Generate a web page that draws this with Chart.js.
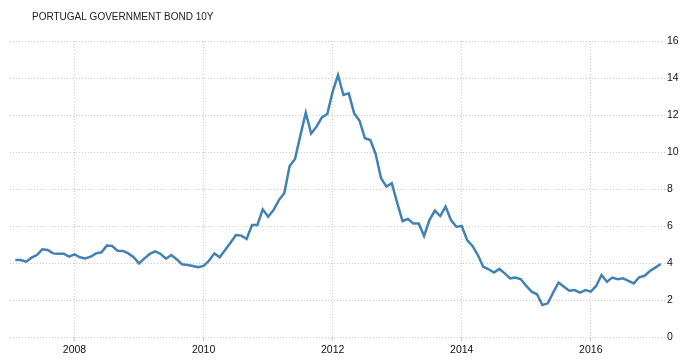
<!DOCTYPE html>
<html>
<head>
<meta charset="utf-8">
<title>Portugal Government Bond 10Y</title>
<script src="https://cdn.jsdelivr.net/npm/chart.js@4.4.1/dist/chart.umd.min.js"></script>
<style>
    html, body { margin: 0; padding: 0; background: #fff; }
    #wrap { position: relative; width: 693px; height: 364px; }
</style>
</head>
<body>
<div id="wrap">
    <canvas id="bondChart" width="693" height="364"></canvas>
</div>
<script>
// данные: месячная доходность, февраль 2007 – февраль 2017
const chartTitle = "PORTUGAL GOVERNMENT BOND 10Y";
const startYear = 2007;
const startMonth = 2;
const yields = [
    4.16, 4.16, 4.07, 4.29, 4.43, 4.74, 4.70, 4.52, 4.50, 4.50, 4.34,
    4.47, 4.31, 4.25, 4.34, 4.52, 4.58, 4.94, 4.92, 4.66, 4.65, 4.52, 4.31, 3.98,
    4.25, 4.49, 4.63, 4.49, 4.23, 4.43, 4.20, 3.93, 3.89, 3.84, 3.77, 3.84,
    4.12, 4.52, 4.31, 4.70, 5.10, 5.51, 5.48, 5.30, 6.05, 6.05, 6.90, 6.50,
    6.86, 7.40, 7.77, 9.24, 9.62, 10.90, 12.12, 11.00, 11.37, 11.87, 12.05, 13.26,
    14.16, 13.08, 13.17, 12.09, 11.69, 10.74, 10.65, 9.89, 8.58, 8.13, 8.31, 7.25,
    6.27, 6.38, 6.14, 6.14, 5.46, 6.32, 6.83, 6.54, 7.05, 6.32, 5.96, 6.00,
    5.24, 4.92, 4.43, 3.80, 3.66, 3.48, 3.68, 3.44, 3.17, 3.21, 3.12, 2.76,
    2.45, 2.31, 1.73, 1.82, 2.40, 2.94, 2.72, 2.50, 2.54, 2.40, 2.54, 2.45,
    2.76, 3.35, 2.99, 3.21, 3.12, 3.17, 3.04, 2.90, 3.23, 3.31, 3.57, 3.75,
    3.95
];
const xTicks = [2008, 2010, 2012, 2014, 2016];
const yTicks = [0, 2, 4, 6, 8, 10, 12, 14, 16];

// позиция каждого месяца на оси времени (в годах)
const monthPos = yields.map((_, i) => startYear + (startMonth - 1 + i) / 12);
const points = yields.map((v, i) => ({ x: monthPos[i], y: v }));

const gridDotted = {
    color: "#c9c9c9",
    lineWidth: 1
};

// заголовок рисуем сами, слева сверху
const titlePlugin = {
    id: "leftTitle",
    afterDraw(chart) {
        const ctx = chart.ctx;
        ctx.save();
        ctx.font = "10px 'Liberation Sans', Arial, sans-serif";
        ctx.fillStyle = "#222";
        ctx.textBaseline = "alphabetic";
        ctx.textAlign = "left";
        ctx.fillText(chartTitle, 32, 19.5);
        ctx.restore();
    }
};

new Chart(document.getElementById("bondChart"), {
    type: "line",
    data: {
        datasets: [{
            data: points,
            borderColor: "#4181b4",
            borderWidth: 2.5,
            pointRadius: 0,
            tension: 0,
            fill: false
        }]
    },
    options: {
        responsive: false,
        animation: false,
        layout: { padding: { left: 10, top: 41, right: 0, bottom: 0 } },
        plugins: {
            legend: { display: false },
            tooltip: { enabled: false }
        },
        scales: {
            x: {
                type: "linear",
                min: 2007.0,
                max: 2017.15,
                afterBuildTicks: (scale) => { scale.ticks = xTicks.map(v => ({ value: v })); },
                afterFit: (scale) => { scale.height = 27; },
                border: { display: false, dash: [1, 2] },
                grid: { ...gridDotted, drawTicks: true, tickLength: 4 },
                ticks: {
                    padding: 3,
                    maxRotation: 0,
                    color: "#111",
                    font: { family: "'Liberation Sans', Arial, sans-serif", size: 10.5 },
                    callback: (v) => String(v)
                }
            },
            y: {
                position: "right",
                min: 0,
                max: 16,
                afterBuildTicks: (scale) => { scale.ticks = yTicks.map(v => ({ value: v })); },
                afterFit: (scale) => { scale.width = 28; },
                border: { display: false, dash: [1, 2] },
                grid: { ...gridDotted, drawTicks: false },
                ticks: {
                    padding: 2,
                    color: "#111",
                    font: { family: "'Liberation Sans', Arial, sans-serif", size: 10.5 }
                }
            }
        }
    },
    plugins: [titlePlugin]
});
</script>
</body>
</html>
